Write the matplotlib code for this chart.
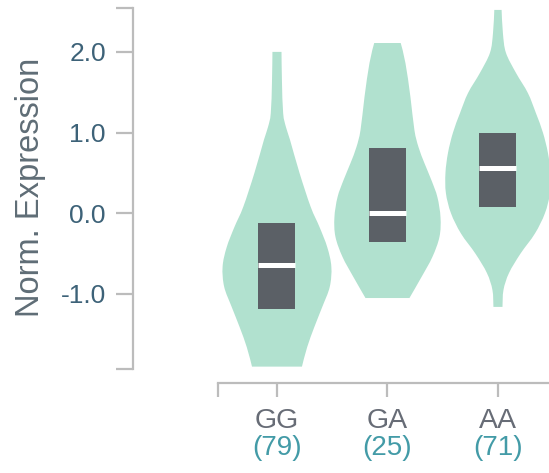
import matplotlib
matplotlib.use("Agg")
import matplotlib.pyplot as plt
import matplotlib.transforms as mtransforms
from matplotlib.path import Path
from matplotlib.patches import PathPatch, Rectangle
import numpy as np

# categories and sample counts
genotypes = ["GG", "GA", "AA"]
counts = [79, 25, 71]

# violin outlines: expression value and half width (category units)
gg_y = [2.00, 1.64, 1.24, 1.07, 0.91, 0.50, 0.08, -0.17, -0.42, -0.66, -0.91, -1.16, -1.41, -1.66, -1.90]
gg_w = [0.041, 0.045, 0.056, 0.081, 0.118, 0.204, 0.305, 0.385, 0.455, 0.492, 0.478, 0.410, 0.338, 0.273, 0.226]
ga_y = [2.11, 1.86, 1.44, 1.03, 0.82, 0.62, 0.41, 0.20, -0.05, -0.29, -0.54, -0.79, -1.05]
ga_w = [0.120, 0.163, 0.208, 0.244, 0.281, 0.335, 0.398, 0.452, 0.480, 0.471, 0.407, 0.308, 0.199]
aa_y = [2.52, 2.23, 1.99, 1.74, 1.49, 1.24, 1.00, 0.75, 0.50, 0.25, 0.00, -0.25, -0.50, -0.74, -0.95, -1.16]
aa_w = [0.033, 0.045, 0.072, 0.163, 0.271, 0.344, 0.407, 0.452, 0.475, 0.471, 0.425, 0.335, 0.204, 0.100, 0.050, 0.041]

# box (quartiles) and medians
q1 = [-1.19, -0.35, 0.075]
q3 = [-0.12, 0.805, 1.00]
medians = [-0.645, 0.0, 0.56]

violin_col = "#b1e1cf"
box_col = "#5b6066"
spine_col = "#bcbcbc"


def smooth_path(xs, ys):
    # catmull-rom through the read points, drawn as cubic beziers
    pts = np.column_stack([xs, ys])
    verts = [pts[0]]
    codes = [Path.MOVETO]
    n = len(pts)
    for i in range(n - 1):
        p0 = pts[i - 1] if i > 0 else pts[i]
        p1 = pts[i]
        p2 = pts[i + 1]
        p3 = pts[i + 2] if i + 2 < n else pts[i + 1]
        c1 = p1 + (p2 - p0) / 6.0
        c2 = p2 - (p3 - p1) / 6.0
        verts += [c1, c2, p2]
        codes += [Path.CURVE4] * 3
    return verts, codes


def violin(ax, pos, ys, ws):
    ys = np.array(ys)
    ws = np.array(ws)
    rv, rc = smooth_path(pos + ws, ys)
    lv, lc = smooth_path((pos - ws)[::-1], ys[::-1])
    verts = rv + [lv[0]] + lv[1:] + [rv[0]]
    codes = rc + [Path.LINETO] + lc[1:] + [Path.CLOSEPOLY]
    ax.add_patch(PathPatch(Path(verts, codes), facecolor=violin_col, edgecolor="none"))


fig = plt.figure(figsize=(5.49, 4.73), dpi=100)
ax = fig.add_axes([133 / 549, 90 / 473, 1 - 133 / 549, 383 / 473])
ax.set_xlim(-1.303, 2.462)
ax.set_ylim(-2.103, 2.643)

for i, (ys, ws) in enumerate([(gg_y, gg_w), (ga_y, ga_w), (aa_y, aa_w)]):
    violin(ax, i, ys, ws)
    bw = 0.335
    ax.add_patch(Rectangle((i - bw / 2, q1[i]), bw, q3[i] - q1[i], facecolor=box_col, edgecolor="none"))
    ax.plot([i - bw / 2, i + bw / 2], [medians[i], medians[i]], color="white", lw=3.6, solid_capstyle="butt")

for s in ["top", "right"]:
    ax.spines[s].set_visible(False)
ax.spines["left"].set_bounds(-1.93, 2.55)
ax.spines["bottom"].set_bounds(-0.534, 2.462)
for s in ["left", "bottom"]:
    ax.spines[s].set_color(spine_col)
    ax.spines[s].set_linewidth(1.6)

ax.set_yticks([-1.93, -1.0, 0.0, 1.0, 2.0, 2.55])
ax.set_yticklabels(["", "-1.0", "0.0", "1.0", "2.0", ""])
ax.tick_params(axis="y", length=12.5, width=1.6, color=spine_col, labelsize=19,
               labelcolor="#3d6278", pad=7)
ax.set_xticks([-0.534, 0, 1, 2])
ax.set_xticklabels(["", "", "", ""])
ax.tick_params(axis="x", length=10, width=1.6, color=spine_col)
for lab in ax.get_yticklabels():
    lab.set_family("Liberation Sans")

trans = mtransforms.blended_transform_factory(ax.transData, fig.transFigure)
for i, g in enumerate(genotypes):
    ax.text(i, 1 - 421 / 473, g, transform=trans, ha="center", va="center",
            fontsize=20.5, color="#676c76", family="Liberation Sans")
    ax.text(i, 1 - 448 / 473, "(%d)" % counts[i], transform=trans, ha="center", va="center",
            fontsize=20, color="#439ba7", family="Liberation Sans")

fig.text(31 / 549, 1 - 187 / 473, "Norm. Expression", rotation=90, ha="center", va="center",
         fontsize=23.5, color="#5f6d76", family="Liberation Sans")

fig.savefig("out.png", dpi=100)
